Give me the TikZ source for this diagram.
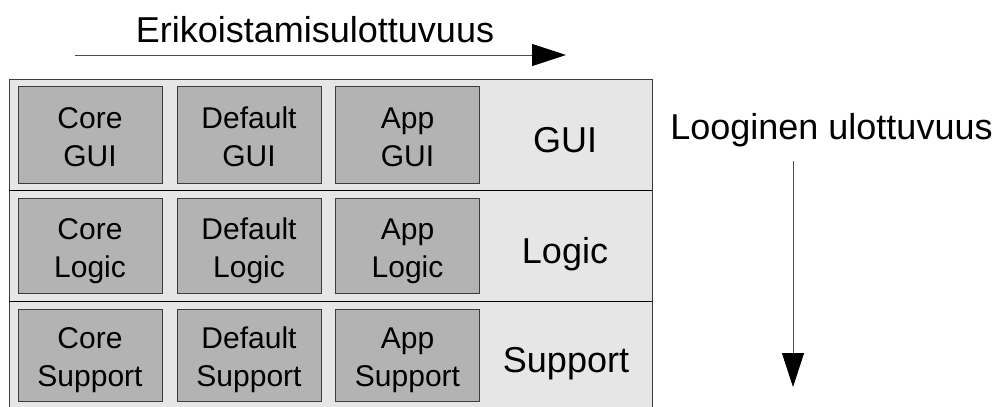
\documentclass[tikz,border=0pt]{standalone}
\usepackage{fontspec}
\setmainfont{Liberation Sans}
\usetikzlibrary{arrows.meta}
\definecolor{panelfill}{HTML}{E6E6E6}
\definecolor{cellfill}{HTML}{B3B3B3}
\definecolor{edgegray}{HTML}{3C3C3C}
% two-line cell caption with fixed top and bottom struts
\newcommand\celltext[2]{\rule{0pt}{33pt}#1\\#2\rule[-8pt]{0pt}{8pt}}
\begin{document}
\begin{tikzpicture}[x=1pt,y=-1pt,
  cell/.style={draw=edgegray, fill=cellfill, line width=1pt,
    minimum width=144pt, inner sep=0pt, align=center,
    font=\fontsize{30}{38}\selectfont},
  bigtext/.style={anchor=base, inner sep=0pt,
    font=\fontsize{36}{43}\selectfont},
  axis/.style={draw=black!70, line width=1pt,
    -{Triangle[length=34pt,width=22pt,black]}}]
\useasboundingbox (0,0) rectangle (1005,407);
\clip (0,0) rectangle (1005,407);

% layered panel
\fill[panelfill] (9,79) rectangle (652,420);
\draw[edgegray, line width=1pt] (9,420) -- (9,79) -- (652,79) -- (652,420);
\draw[black, line width=1pt] (9,190) -- (652,190);
\draw[black, line width=1pt] (9,301) -- (652,301);

% GUI layer
\node[cell, minimum height=97pt] (coregui) at (90,134.5)  {\celltext{Core}{GUI}};
\node[cell, minimum height=97pt] (defgui)  at (249,134.5) {\celltext{Default}{GUI}};
\node[cell, minimum height=97pt] (appgui)  at (407.5,134.5) {\celltext{App}{GUI}};
\node[bigtext] (lgui) at (565,152) {GUI};

% Logic layer
\node[cell, minimum height=95pt] (corelogic) at (90,245.5)  {\celltext{Core}{Logic}};
\node[cell, minimum height=95pt] (deflogic)  at (249,245.5) {\celltext{Default}{Logic}};
\node[cell, minimum height=95pt] (applogic)  at (407.5,245.5) {\celltext{App}{Logic}};
\node[bigtext] (llogic) at (565,263) {Logic};

% Support layer
\node[cell, minimum height=92pt] (coresup) at (90,355)  {\celltext{Core}{Support}};
\node[cell, minimum height=92pt] (defsup)  at (249,355) {\celltext{Default}{Support}};
\node[cell, minimum height=92pt] (appsup)  at (407.5,355) {\celltext{App}{Support}};
\node[bigtext] (lsup) at (566,372) {Support};

% dimension axes
\node[bigtext] (htitle) at (315,42) {Erikoistamisulottuvuus};
\coordinate (hstart) at (75,55);
\coordinate (hend) at (566,55);
\draw[axis] (hstart) -- (hend);

\node[bigtext] (vtitle) at (831.5,139) {Looginen ulottuvuus};
\coordinate (vstart) at (793,161);
\coordinate (vend) at (793,387);
\draw[axis] (vstart) -- (vend);
\end{tikzpicture}
\end{document}
